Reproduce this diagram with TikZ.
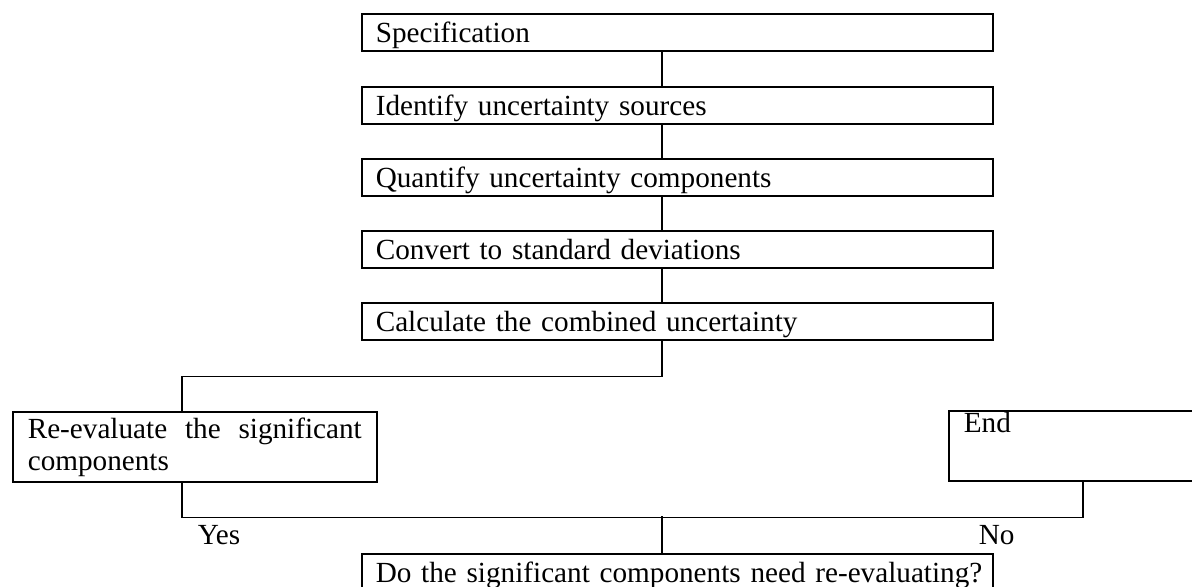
\documentclass[tikz,border=0pt]{standalone}
\usepackage{fontspec}
\setmainfont{Liberation Serif}

\begin{document}
\begin{tikzpicture}[x=0.5pt,y=-0.5pt,line width=0.8pt,
  font=\fontsize{14.6pt}{16pt}\selectfont,
  stepbox/.style={draw,rectangle,anchor=north west,text width=301.5pt,align=left,
    inner xsep=7pt,inner ysep=0pt,text height=14.5pt,text depth=4pt},
  sidebox/.style={draw,rectangle,anchor=north west,text width=167pt,align=justify,
    inner xsep=7.5pt,inner ysep=0pt}]
\path[use as bounding box,clip] (0,0) rectangle (1192,586);
\coordinate (spine) at (662,0);
\coordinate (yesx) at (182,0);
\coordinate (nox) at (1083,0);

% Main chain of steps
\node[stepbox] (spec) at (361,13) {Specification};
\node[stepbox] (ident) at (361,86) {Identify uncertainty sources};
\node[stepbox] (quant) at (361,158) {Quantify uncertainty components};
\node[stepbox] (conv) at (361,230) {Convert to standard deviations};
\node[stepbox] (calc) at (361,302) {Calculate the combined uncertainty};

% Decision and its two outcomes
\node[sidebox,text height=13.5pt,text depth=21.5pt] (reval) at (12,411) {Re-evaluate the significant components};
\node[sidebox,text height=11pt,text depth=24pt] (endbox) at (948,410) {End};
\node[stepbox] (ask) at (361,553) {\mbox{Do the significant components need re-evaluating?}};
\node[anchor=base west,inner sep=0pt] (yes) at (197,544.5) {Yes};
\node[anchor=base west,inner sep=0pt] (no) at (978,544.5) {No};

\foreach \a/\b in {spec/ident,ident/quant,quant/conv,conv/calc}
  \draw (\a.south -| spine) -- (\b.north -| spine);
\draw (calc.south -| spine) -- ++(0,36) -| (reval.north -| yesx);
\draw (reval.south -| yesx) -- ++(0,35) -| (endbox.south -| nox);
\draw (ask.north -| spine) -- ++(0,-37);

\end{tikzpicture}
\end{document}
